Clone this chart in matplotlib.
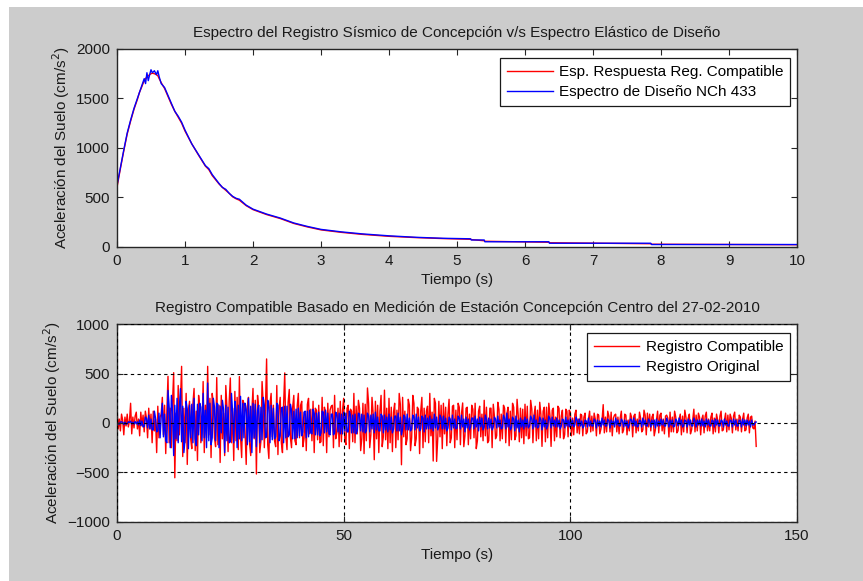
import numpy as np
import matplotlib
matplotlib.use("Agg")
import matplotlib.pyplot as plt
from matplotlib.patches import Rectangle

plt.rcParams['font.family'] = ['Liberation Sans', 'DejaVu Sans']
plt.rcParams['font.size'] = 11

# ---------------- Top: spectra ----------------
T_spec = [0.0, 0.05, 0.1, 0.15, 0.2, 0.25, 0.3, 0.33, 0.36, 0.4, 0.42, 0.44, 0.46, 0.48,
          0.5, 0.52, 0.55, 0.58, 0.6, 0.62, 0.65, 0.7, 0.75, 0.8, 0.85, 0.9, 0.95, 1.0,
          1.1, 1.2, 1.3, 1.35, 1.4, 1.5, 1.55, 1.6, 1.65, 1.7, 1.75, 1.8, 1.9, 2.0,
          2.2, 2.4, 2.6, 2.8, 3.0, 3.3, 3.6, 4.0, 4.4, 4.8, 5.2, 5.21, 5.4, 5.41,
          6.35, 6.36, 7.85, 7.86, 10.0]
blue_spec = [620, 800, 980, 1150, 1280, 1400, 1500, 1560, 1620, 1700, 1650, 1760, 1680, 1740,
             1790, 1760, 1780, 1740, 1780, 1720, 1650, 1610, 1530, 1450, 1370, 1320, 1260, 1180,
             1040, 930, 820, 790, 730, 640, 600, 580, 540, 510, 490, 480, 420, 380,
             330, 290, 240, 205, 175, 150, 130, 110, 95, 85, 80, 68, 68, 50,
             50, 35, 35, 22, 22]
red_spec = [600, 790, 970, 1140, 1270, 1390, 1490, 1560, 1610, 1680, 1700, 1720, 1730, 1740,
            1750, 1755, 1750, 1740, 1730, 1700, 1660, 1600, 1520, 1440, 1370, 1310, 1250, 1170,
            1040, 925, 815, 780, 720, 635, 600, 570, 540, 505, 485, 470, 415, 375,
            325, 285, 235, 200, 170, 145, 125, 105, 92, 82, 75, 72, 60, 55,
            45, 40, 30, 25, 20]

# ---------------- Bottom: acceleration records (0.25 s spacing) ----------------
dt_rec = 0.25
red_rec = [
    150, -60, 40, -80, 90, 30, -120, 60, -30, 90, -40, 20, 200, -110, 60, -50, 70, 110, -60, 40,
    -130, 110, -30, 80, -90, 120, 50, -150, 150, -60, 90, -200, 120, -80, 40, -300, 170, -150, 60, 90,
    260, -120, 180, -310, 120, 473, -200, 150, -250, 210, 510, -555, 100, -180, 380, -120, 240, 574, -340, 150,
    -200, 300, -420, 130, 220, -160, -260, 200, 350, -280, 120, -380, 280, 160, -200, -100, 420, -300, 180, -150,
    574, -120, 250, -350, 300, 200, -150, -240, 460, -220, 180, -400, 280, -160, 100, -330, 380, 160, -290, 220,
    456, -200, 150, -380, 320, -180, 260, -270, 470, -140, -350, 230, 200, -90, -420, 170, 260, -210, -330, 120,
    350, -160, 230, -517, 280, 150, -300, -180, 420, 200, -250, 160, 649, -220, -360, 200, 300, -140, 180, -180,
    -240, 380, -320, 150, 260, -200, -300, 190, 507, -130, -270, 210, 340, -150, -250, 160, 280, -180, -220, 170,
    300, -150, 180, 220, -240, -160, 90, -280, 190, 250, -110, 140, -180, 220, -300, 150, 130, -170, 180, -200,
    -190, 260, -230, 160, 110, -300, 200, -140, 130, 170, 180, -250, 280, -160, -100, 150, -240, 220, -190, 130,
    250, -170, -220, 150, 180, -260, 140, 120, -190, 300, -200, 170, -110, 230, 150, -280, -160, 200, -310, 190,
    -180, 355, 200, -250, -120, 260, 100, -372, 220, -160, 180, -300, 120, 280, -240, -140, 333, -170, 150, -260,
    250, -200, 160, -290, 110, 200, -250, 130, -170, 300, 190, -423, 260, -140, 120, -220, -160, 240, 180, -280,
    -150, 280, 200, -230, -160, 160, 140, -310, 120, 260, -250, 150, -190, 120, 170, -200, 300, -130, 110, -385,
    250, 200, -389, -160, 220, -140, 180, -260, 200, -110, 160, -230, 90, 240, -200, -150, 170, 180, -250, 130,
    -170, 200, 160, -220, 100, 203, -240, -130, 150, 160, -220, 90, -160, 180, 140, -150, 200, -260, -180, 120,
    170, -140, 90, -180, 230, -130, 160, -200, -180, 150, 150, -250, 190, 70, -160, -130, 210, 140, -180, 90,
    -160, 180, 150, -200, 90, 160, -230, 120, -170, 200, 160, -170, -130, 240, 80, -190, 150, -150, 140, -210,
    190, -130, 170, -160, -150, 230, 140, -200, 80, 170, -180, 130, -160, 210, 90, -237, 120, 160, -190, 160,
    -150, 200, 80, -237, 130, 150, -180, 60, -140, 170, 150, -150, 70, 130, -160, -120, 140, 120, -140, 130,
    110, -130, 50, -120, 90, 130, -100, 40, -110, 90, 80, -130, 60, 100, -110, -90, 40, 120, -90, 70,
    -80, 100, 40, -130, 90, 80, -110, -60, 30, 186, -100, 60, -90, 120, 70, -90, 110, -130, 50, 80,
    90, -90, 60, -110, 50, 120, -100, -70, 90, 80, -120, 30, -80, 100, 60, -140, 70, 90, -100, 40,
    -80, 110, 50, -90, -70, 130, 80, -120, 100, -40, 90, -80, 60, 90, -130, -70, 30, 120, -100, 80,
    100, -80, 40, -110, 70, 80, 50, -142, 110, -90, 60, -90, 120, 60, -100, -80, 40, 90, -120, 70,
    -90, 130, 60, -100, 50, 90, -110, -70, 40, 140, -90, 80, -80, 100, 60, -120, 40, 80, -100, 70,
    110, -80, 40, -80, 60, 100, -110, 50, -90, 90, 30, -100, 70, 120, -80, -70, 30, 100, -90, 80,
    -70, 90, 50, -100, 70, 110, -70, 40, -80, 80, 60, -90, 40, 100, -80, -70, 50, 90, -100, 60,
    70, -50, -60, 20, -237]
blue_rec = [
    15, -8, -12, 10, 12, 6, -15, 9, -10, -8, 12, 6, 18, -10, 8, -10, 15, -9, 12, -20,
    30, -25, 20, -40, -35, 60, 45, -50, 80, -60, 40, -70, -70, 120, 50, -90, -80, 100, -150, 60,
    200, -140, 90, -180, -200, 330, 160, -250, 280, 120, -330, 180, -160, 250, -200, 150, 348, -190, 170, -300,
    -170, 220, 140, -260, 180, -150, 190, -200, 250, -160, -230, 190, -120, 200, 160, -180, 300, -150, 130, -250,
    405, -180, 200, -220, -150, 250, 160, -180, 200, 190, -250, 170, -100, 230, 140, -300, 180, -180, 160, -200,
    -190, 300, 110, -200, 220, 130, -250, 180, -160, 270, -180, 200, -150, 200, 140, -220, 250, -190, 170, -300,
    200, -150, 190, -240, 130, 180, -200, 160, -170, 260, 180, -150, -140, 230, 160, -200, 180, -170, 150, -160,
    -140, 200, 180, -180, -130, 150, 160, -200, 170, -150, 170, -140, -120, 190, 130, -160, 120, -160, 140, -150,
    150, -130, 110, -130, -90, 110, 120, -150, 120, -140, 130, -100, -110, 140, 100, -120, 100, -120, 110, -130,
    -100, 120, 110, -100, 130, -90, 100, -110, -120, 90, 90, -120, -100, 110, 80, -90, 100, -110, 90, -110,
    110, -80, 100, -90, -90, 120, 80, -100, 80, -100, 90, -110, -80, 100, 90, -80, 90, -90, 80, -100,
    -80, 100, 70, -90, 80, -60, 90, -100, 110, -70, 60, -80, -80, 90, 70, -100, 80, -70, 60, -90,
    90, -70, 60, -100, -60, 70, 70, -80, 100, -80, 60, -120, -60, 80, 60, -70, 90, -70, 50, -80,
    -60, 80, 60, -70, 90, -50, 60, -80, -60, 70, 50, -90, 80, -60, 50, -60, 70, -60, 40, -80,
    90, -50, 60, -70, -40, 80, 50, -60, 70, -60, 50, -80, -50, 60, 40, -70, 80, -50, 40, -60,
    -50, 70, 50, -60, 80, -40, 40, -90, 60, -50, 40, -70, -40, 50, 50, -60, 70, -40, 40, -80,
    60, -40, 50, -70, -40, 80, 40, -60, 50, -50, 40, -70, -40, 60, 40, -50, 70, -40, 30, -60,
    -50, 80, 50, -60, 100, -40, 40, -70, -50, 60, 40, -80, 70, -50, 30, -90, 50, -40, 30, -60,
    60, -40, 40, -50, -30, 70, 40, -60, 80, -40, 30, -50, -40, 60, 30, -70, 50, -40, 30, -60,
    -30, 70, 40, -50, 60, -30, 30, -40, 50, -40, 30, -60, -30, 40, 30, -50, 60, -30, 30, -40,
    50, -30, 30, -40, -20, 60, 30, -30, 40, -30, 20, -50, -30, 30, 20, -40, 50, -30, 20, -30,
    -30, 40, 20, -50, 30, -30, 20, -40, 50, -20, 30, -30, -30, 40, 20, -50, 30, -20, 20, -40,
    50, -20, 30, -30, -30, 40, 20, -40, 30, -30, 20, -50, -20, 40, 30, -30, 50, -30, 20, -40,
    -30, 30, 20, -40, 50, -20, 30, -30, -30, 40, 20, -40, 30, -20, 30, -50, 40, -30, 20, -30,
    40, -20, 30, -30, -30, 50, 20, -40, 30, -20, 30, -40, -30, 40, 20, -30, 50, -20, 30, -40,
    -30, 30, 20, -40, 40, -20, 30, -30, -30, 50, 20, -40, 30, -20, 30, -30, 40, -30, 20, -40,
    40, -20, 30, -30, -30, 30, 20, -40, 40, -20, 30, -30, -30, 30, 20, -40, 40, -20, 20, -30,
    -30, 30, 20, -40, 40, -20, 30, -30, -30, 30, 20, -40, 40, -20, 30, -30, 30, -20, 20, -40,
    30, -20, -20, 5, 10]

t_red = np.arange(len(red_rec)) * dt_rec
t_blue = np.arange(len(blue_rec)) * dt_rec

W, H = 863, 581
fig = plt.figure(figsize=(W / 100, H / 100), dpi=100, facecolor='white')
fig.patches.append(Rectangle((9 / W, 0), 1 - 9 / W, 1 - 7 / H, transform=fig.transFigure,
                             facecolor='#cccccc', edgecolor='none', zorder=-10))

txt = '#1a1a1a'
spine_c = '#262626'
FS = 11

def style(ax):
    ax.set_facecolor('white')
    for s in ax.spines.values():
        s.set_color(spine_c)
        s.set_linewidth(1.0)
    ax.tick_params(direction='in', top=True, right=True, length=4, width=0.8,
                   colors=spine_c, labelcolor=txt, labelsize=FS, pad=5)

L = 117 / W
Wd = (797 - 117) / W
ax1 = fig.add_axes([L, 1 - 246.7 / H, Wd, (246.7 - 49) / H])
ax2 = fig.add_axes([L, 1 - 521.7 / H, Wd, (521.7 - 324.3) / H])

leg_kw = dict(loc='upper right', borderaxespad=0, fancybox=False, framealpha=1,
              edgecolor='#1a1a1a', fontsize=FS, handlelength=3.0, handletextpad=0.4,
              borderpad=0.45, labelspacing=0.4)

style(ax1)
ax1.plot(T_spec, red_spec, color='#ff0000', lw=1.0, label='Esp. Respuesta Reg. Compatible')
ax1.plot(T_spec, blue_spec, color='#0000ff', lw=1.0, label='Espectro de Diseño NCh 433')
ax1.set_xlim(0, 10)
ax1.set_ylim(0, 2000)
ax1.set_xticks(range(0, 11))
ax1.set_yticks([0, 500, 1000, 1500, 2000])
ax1.set_title('Espectro del Registro Sísmico de Concepción v/s Espectro Elástico de Diseño',
              fontsize=FS, color=txt, pad=9)
ax1.set_xlabel('Tiempo (s)', fontsize=FS, color=txt, labelpad=4)
ax1.set_ylabel('Aceleración del Suelo (cm/s$^2$)', fontsize=FS, color=txt, labelpad=3)
leg1 = ax1.legend(bbox_to_anchor=(1 - 7 / 680, 1 - 9 / 197.7), **leg_kw)
leg1.get_frame().set_linewidth(0.9)

style(ax2)
ax2.plot(t_red, red_rec, color='#ff0000', lw=1.0, label='Registro Compatible')
ax2.plot(t_blue, blue_rec, color='#0000ff', lw=1.0, label='Registro Original')
ax2.set_xlim(0, 150)
ax2.set_ylim(-1000, 1000)
ax2.set_xticks([0, 50, 100, 150])
ax2.set_yticks([-1000, -500, 0, 500, 1000])
ax2.grid(True, color='black', linestyle=(0, (3, 3)), linewidth=0.8)
ax2.set_axisbelow(False)
ax2.set_title('Registro Compatible Basado en Medición de Estación Concepción Centro del 27-02-2010',
              fontsize=FS, color=txt, pad=9)
ax2.set_xlabel('Tiempo (s)', fontsize=FS, color=txt, labelpad=4)
ax2.set_ylabel('Aceleración del Suelo (cm/s$^2$)', fontsize=FS, color=txt, labelpad=3)
leg2 = ax2.legend(bbox_to_anchor=(1 - 7 / 680, 1 - 9 / 197.4), **leg_kw)
leg2.get_frame().set_linewidth(0.9)

fig.savefig('out.png', dpi=100, facecolor=fig.get_facecolor())
